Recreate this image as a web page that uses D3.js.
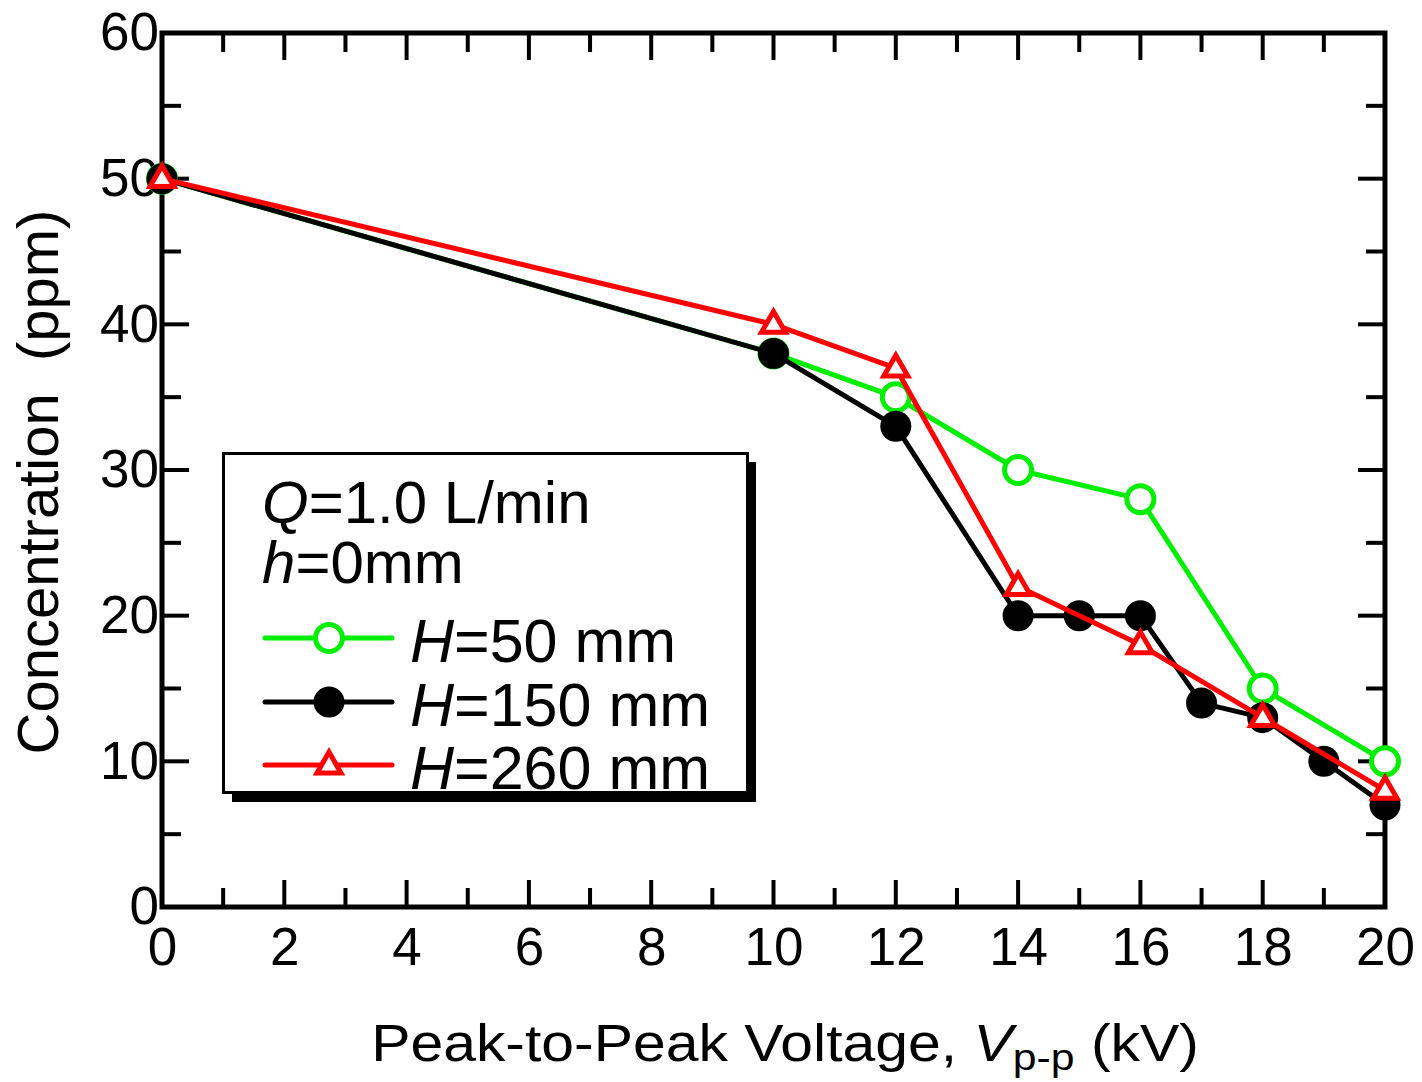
<!DOCTYPE html>
<html><head><meta charset="utf-8">
<script src="https://cdn.jsdelivr.net/npm/d3@7"></script>
<style>html,body{margin:0;padding:0;background:#fff;}svg{display:block;font-family:"Liberation Sans",Arial,sans-serif;}</style>
</head><body>
<svg id="c" width="1422" height="1082"></svg>
<script>
const xTicks = [0,2,4,6,8,10,12,14,16,18,20];
const yTicks = [0,10,20,30,40,50,60];
const h50X = [0,10,12,14,16,18,20];
const h50Y = [50,38,35,30,28,15,10];
const h150X = [0,10,12,14,15,16,17,18,19,20];
const h150Y = [50,38,33,20,20,20,14,13,10,7];
const h260X = [0,10,12,14,16,18,20];
const h260Y = [50,40,37,22,18,13,8];
const seriesNames = ["H=50 mm","H=150 mm","H=260 mm"];
const seriesColors = ["#00ee00","#000000","#ff0000"];

const svg = d3.select("#c");
const L=162, R=1385, T=33, B=907;
const x = d3.scaleLinear().domain([0,20]).range([L,R]);
const y = d3.scaleLinear().domain([0,60]).range([B,T]);

// axes frame
const g = svg.append("g");
const maj = 27, mnr = 19;
const xMinor = d3.range(1,20,2), yMinor = d3.range(5,60,10);
function tickLines(vals, len, horizontal){
  vals.forEach(v=>{
    if(horizontal){
      g.append("line").attr("x1",x(v)).attr("x2",x(v)).attr("y1",B).attr("y2",B-len).attr("stroke","#000").attr("stroke-width",4);
      g.append("line").attr("x1",x(v)).attr("x2",x(v)).attr("y1",T).attr("y2",T+len).attr("stroke","#000").attr("stroke-width",4);
    } else {
      g.append("line").attr("y1",y(v)).attr("y2",y(v)).attr("x1",L).attr("x2",L+len).attr("stroke","#000").attr("stroke-width",4);
      g.append("line").attr("y1",y(v)).attr("y2",y(v)).attr("x1",R).attr("x2",R-len).attr("stroke","#000").attr("stroke-width",4);
    }
  });
}
tickLines(xTicks.slice(1,-1), maj, true);
tickLines(xMinor, mnr, true);
tickLines(yTicks.slice(1,-1), maj, false);
tickLines(yMinor, mnr, false);
g.append("rect").attr("x",L).attr("y",T).attr("width",R-L).attr("height",B-T).attr("fill","none").attr("stroke","#000").attr("stroke-width",5);

// tick labels via axes
const xAxis = svg.append("g").attr("transform",`translate(0,${B})`).call(d3.axisBottom(x).tickValues(xTicks).tickSize(0).tickPadding(20));
xAxis.select(".domain").remove();
xAxis.selectAll("text").attr("font-size",53).attr("font-family","Liberation Sans, Arial, sans-serif").attr("fill","#000").attr("dy","0.71em");
const yAxis = svg.append("g").attr("transform",`translate(${L},0)`).call(d3.axisLeft(y).tickValues(yTicks).tickSize(0).tickPadding(3));
yAxis.select(".domain").remove();
yAxis.selectAll("text").attr("font-size",53).attr("font-family","Liberation Sans, Arial, sans-serif").attr("fill","#000");

// titles
const xt = svg.append("text").attr("transform","translate(785,1061) scale(1.155,1)").attr("x",0).attr("y",0).attr("text-anchor","middle").attr("font-size",51);
xt.append("tspan").text("Peak-to-Peak Voltage,\u00a0");
xt.append("tspan").attr("font-style","italic").text("V");
xt.append("tspan").attr("font-size",37).attr("dy",9).text("p-p");
xt.append("tspan").attr("dy",-9).text(" (kV)");
svg.append("text").attr("transform","translate(58,482) rotate(-90)").attr("text-anchor","middle").attr("font-size",58).text("Concentration\u00a0\u00a0(ppm)");

// series
const series = [
  {xs:h50X, ys:h50Y, color:seriesColors[0], type:"open"},
  {xs:h150X, ys:h150Y, color:seriesColors[1], type:"filled"},
  {xs:h260X, ys:h260Y, color:seriesColors[2], type:"tri"}
];
const line = d3.line().x(d=>x(d[0])).y(d=>y(d[1]));
function marker(sel, type, color, cx, cy){
  if(type==="open") sel.append("circle").attr("cx",cx).attr("cy",cy).attr("r",13.5).attr("fill","#fff").attr("stroke",color).attr("stroke-width",5);
  else if(type==="filled") sel.append("circle").attr("cx",cx).attr("cy",cy).attr("r",15.5).attr("fill",color);
  else {
    const s=24, h=s*Math.sqrt(3)/2;
    sel.append("path").attr("d",`M${cx},${cy-h*0.62}L${cx+s/2},${cy+h*0.38}L${cx-s/2},${cy+h*0.38}Z`).attr("fill","#fff").attr("stroke",color).attr("stroke-width",5).attr("stroke-linejoin","miter");
  }
}
series.forEach(s=>{
  const pts = s.xs.map((v,i)=>[v,s.ys[i]]);
  const gs = svg.append("g");
  gs.append("path").datum(pts).attr("d",line).attr("fill","none").attr("stroke",s.color).attr("stroke-width",5).attr("stroke-linejoin","round");
  pts.forEach(p=>marker(gs,s.type,s.color,x(p[0]),y(p[1])));
});

// legend
const lg = svg.append("g");
lg.append("rect").attr("x",232).attr("y",462).attr("width",524).attr("height",340).attr("fill","#000");
lg.append("rect").attr("x",223.5).attr("y",453.5).attr("width",524).attr("height",339).attr("fill","#fff").attr("stroke","#000").attr("stroke-width",3);
const t1 = lg.append("text").attr("x",262).attr("y",523).attr("font-size",60);
t1.append("tspan").attr("font-style","italic").text("Q");
t1.append("tspan").text("=1.0 L/min");
const t2 = lg.append("text").attr("x",262).attr("y",583).attr("font-size",60);
t2.append("tspan").attr("font-style","italic").text("h");
t2.append("tspan").text("=0mm");
const ly = [638,702,765];
series.forEach((s,i)=>{
  lg.append("line").attr("x1",265).attr("x2",392).attr("y1",ly[i]).attr("y2",ly[i]).attr("stroke",s.color).attr("stroke-width",5).attr("stroke-linecap","round");
  marker(lg,s.type,s.color,329,ly[i]);
  const t = lg.append("text").attr("x",410).attr("y",ly[i]+24).attr("font-size",61);
  t.append("tspan").attr("font-style","italic").text("H");
  t.append("tspan").text(seriesNames[i].slice(1));
});
</script>
</body></html>
